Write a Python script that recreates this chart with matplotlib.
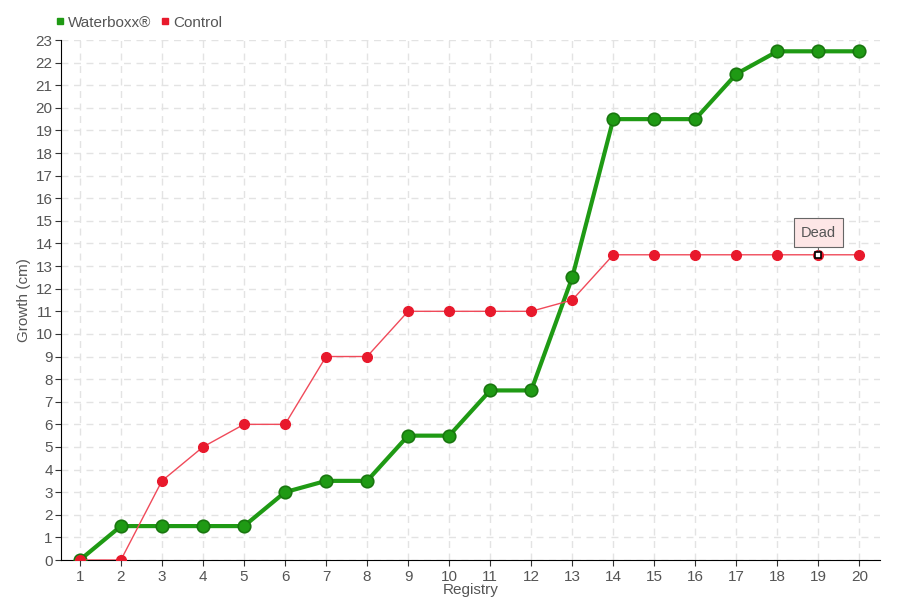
import matplotlib
matplotlib.use("Agg")
import matplotlib.pyplot as plt
from matplotlib.lines import Line2D

plt.rcParams['font.family'] = ['Liberation Sans', 'DejaVu Sans']

registry = list(range(1, 21))
waterboxx = [0, 1.5, 1.5, 1.5, 1.5, 3, 3.5, 3.5, 5.5, 5.5, 7.5, 7.5, 12.5, 19.5, 19.5, 19.5, 21.5, 22.5, 22.5, 22.5]
control = [0, 0, 3.5, 5, 6, 6, 9, 9, 11, 11, 11, 11, 11.5, 13.5, 13.5, 13.5, 13.5, 13.5, 13.5, 13.5]
dead_index = 18
dead_label = "Dead"

green = '#1f9a14'
green_edge = '#19770f'
red = '#e8192c'
red_line = '#f04a5a'
text_col = '#555555'

fig = plt.figure(figsize=(9, 6), dpi=100)
ax = fig.add_axes([61/900, 40/600, (880-61)/900, (560-40)/600])

ax.plot(registry, waterboxx, color=green, lw=3, marker='o', ms=9,
        mfc=green, mec=green_edge, mew=1.2, zorder=3, solid_joinstyle='round')
ax.plot(registry, control, color=red_line, lw=1, marker='o', ms=7,
        mfc=red, mec=red, zorder=4)
ax.plot([registry[dead_index]], [control[dead_index]], marker='s', ms=5,
        mfc='white', mec='black', mew=1.2, ls='none', zorder=5)

ax.annotate(dead_label, xy=(registry[dead_index], control[dead_index]),
            xytext=(0, 16), textcoords='offset points', ha='center', va='center',
            fontsize=10.5, color=text_col,
            bbox=dict(boxstyle='square,pad=0.5', fc='#fde6e6', ec='#666666', lw=0.8),
            arrowprops=dict(arrowstyle='-', color='#666666', lw=0.8, shrinkA=0, shrinkB=3),
            zorder=6)

ax.set_xlim(0.54, 20.5)
ax.set_ylim(0, 23)
ax.set_xticks(registry)
ax.set_yticks(range(0, 24))
ax.grid(True, color='#e3e3e3', ls=(0, (5, 4)), lw=1)
ax.set_axisbelow(True)
for s in ['top', 'right']:
    ax.spines[s].set_visible(False)
ax.spines['left'].set_color('black')
ax.spines['bottom'].set_color('black')
ax.tick_params(axis='both', colors='#333333', labelcolor=text_col, labelsize=11, length=4)
ax.tick_params(axis='y', pad=2)
ax.set_xlabel('Registry', color=text_col, fontsize=11, labelpad=-1)
ax.set_ylabel('Growth (cm)', color=text_col, fontsize=11)
ax.yaxis.set_label_coords(-30/819, 0.5)

handles = [Line2D([], [], marker='s', color=green, ls='none', ms=5),
           Line2D([], [], marker='s', color=red, ls='none', ms=5)]
fig.legend(handles, ['Waterboxx®', 'Control'], loc='upper left', bbox_to_anchor=(0.045, 0.997),
           ncol=2, frameon=False, fontsize=11, handletextpad=0.1, columnspacing=0.5,
           labelcolor=text_col, handlelength=0.8)

fig.savefig('out.png', dpi=100)
